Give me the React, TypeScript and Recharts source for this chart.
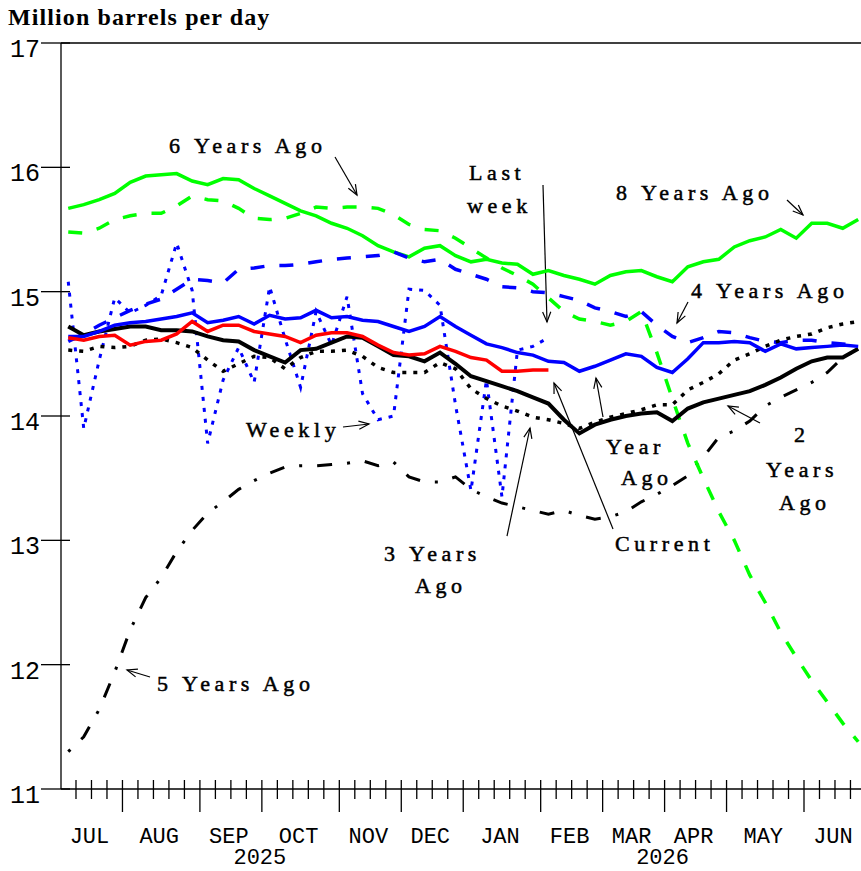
import React from "react";
import { LineChart, Line, XAxis, YAxis, ReferenceLine, Customized } from "recharts";

// ---------- data (week index 0..51, Jul 2025 .. Jun 2026) ----------
const WEEK = [0,1,2,3,4,5,6,7,8,9,10,11,12,13,14,15,16,17,18,19,20,21,22,23,24,25,26,27,28,29,30,31,32,33,34,35,36,37,38,39,40,41,42,43,44,45,46,47,48,49,50,51];

const CURRENT = [14.63,14.61,14.64,14.65,14.57,14.60,14.61,14.66,14.76,14.68,
  14.73,14.73,14.68,14.66,14.64,14.59,14.65,14.67,14.67,14.64,
  14.57,14.51,14.49,14.50,14.56,14.52,14.47,14.45,14.36,14.36,
  14.37,14.37];

const WEEKLY = [15.08,13.90,14.45,14.95,14.83,14.89,14.97,15.39,15.01,13.78,
  14.29,14.55,14.27,15.04,14.62,14.23,14.84,14.57,14.96,14.18,
  13.97,14.00,15.02,15.01,14.89,14.09,13.40,14.29,13.35,14.53,
  14.56,14.63];

const YEAR_AGO = [14.64,14.64,14.68,14.73,14.75,14.76,14.78,14.80,14.83,14.75,
  14.77,14.80,14.74,14.81,14.78,14.79,14.85,14.79,14.80,14.77,
  14.76,14.72,14.68,14.72,14.80,14.72,14.65,14.58,14.55,14.51,
  14.49,14.44,14.43,14.36,14.40,14.45,14.50,14.48,14.39,14.35,
  14.46,14.59,14.59,14.60,14.59,14.52,14.58,14.54,14.55,14.56,
  14.57,14.56];

const TWO_YEARS_AGO = [14.72,14.65,14.68,14.70,14.72,14.72,14.69,14.69,14.68,14.64,
  14.61,14.60,14.53,14.48,14.43,14.53,14.54,14.59,14.64,14.63,
  14.56,14.49,14.48,14.44,14.51,14.42,14.32,14.28,14.24,14.20,
  14.15,14.10,13.97,13.86,13.93,13.97,14.00,14.02,14.03,13.96,
  14.06,14.11,14.14,14.17,14.20,14.25,14.31,14.38,14.44,14.47,
  14.47,14.54];

const THREE_YEARS_AGO = [14.53,14.52,14.56,14.55,14.56,14.61,14.62,14.59,14.55,14.45,
  14.36,14.42,14.48,14.47,14.38,14.47,14.52,14.52,14.53,14.48,
  14.39,14.35,14.35,14.35,14.43,14.38,14.22,14.14,14.08,14.04,
  13.99,13.97,13.94,13.90,13.95,13.99,14.02,14.05,14.09,14.09,
  14.21,14.27,14.34,14.45,14.50,14.56,14.61,14.64,14.66,14.71,
  14.74,14.76];

const FOUR_YEARS_AGO = [14.60,14.66,14.73,14.79,14.85,14.90,14.94,15.02,15.10,15.09,
  15.07,15.18,15.19,15.21,15.21,15.22,15.24,15.26,15.27,15.28,
  15.29,15.32,15.27,15.24,15.26,15.18,15.14,15.10,15.04,15.03,
  15.00,14.99,14.96,14.93,14.87,14.84,14.80,14.84,14.73,14.64,
  14.59,14.63,14.68,14.67,14.63,14.60,14.59,14.61,14.61,14.59,
  14.58,14.56];

const FIVE_YEARS_AGO = [11.30,11.42,11.64,11.94,12.28,12.54,12.70,12.91,13.08,13.22,
  13.31,13.41,13.48,13.54,13.59,13.60,13.60,13.61,13.62,13.64,
  13.60,13.63,13.51,13.47,13.47,13.51,13.41,13.35,13.30,13.27,
  13.24,13.21,13.24,13.20,13.17,13.19,13.23,13.31,13.37,13.44,
  13.52,13.67,13.83,13.88,13.96,14.08,14.15,14.21,14.27,14.35,
  14.47,14.54];

const SIX_YEARS_AGO = [15.48,15.47,15.51,15.58,15.61,15.63,15.63,15.69,15.77,15.74,
  15.73,15.67,15.59,15.58,15.59,15.63,15.68,15.67,15.68,15.68,
  15.67,15.62,15.54,15.50,15.49,15.43,15.35,15.27,15.19,15.13,
  15.06,14.95,14.84,14.78,14.76,14.73,14.76,14.84,14.51,14.14,
  13.78,13.50,13.23,13.00,12.72,12.50,12.26,12.06,11.87,11.70,
  11.53,11.38];

const EIGHT_YEARS_AGO = [15.67,15.70,15.74,15.79,15.88,15.93,15.94,15.95,15.89,15.86,
  15.91,15.90,15.83,15.77,15.71,15.65,15.61,15.55,15.51,15.45,
  15.37,15.32,15.28,15.35,15.37,15.29,15.24,15.26,15.23,15.22,
  15.14,15.17,15.13,15.10,15.06,15.13,15.16,15.17,15.12,15.08,
  15.20,15.24,15.26,15.36,15.41,15.44,15.50,15.43,15.55,15.55,
  15.51,15.58];

const MONTHS = ["JUL","AUG","SEP","OCT","NOV","DEC","JAN","FEB","MAR","APR","MAY","JUN"];
const MONTH_START_WEEK = [0,4,9,13,18,22,26,31,35,39,43,48];
const LAST_WEEK_BOUNDARY = 52;
const YEARS = ["2025","2026"];
const YEAR_START_WEEK = [0,26];
const Y_TICKS = [11,12,13,14,15,16,17];

// ---------- derived ----------
const data = WEEK.map((w, i) => ({
  w,
  current: CURRENT[i] ?? null,
  weekly: WEEKLY[i] ?? null,
  y1: YEAR_AGO[i] ?? null,
  y2: TWO_YEARS_AGO[i] ?? null,
  y3: THREE_YEARS_AGO[i] ?? null,
  y4: FOUR_YEARS_AGO[i] ?? null,
  y5: FIVE_YEARS_AGO[i] ?? null,
  y6: SIX_YEARS_AGO[i] ?? null,
  y8: EIGHT_YEARS_AGO[i] ?? null,
}));

// week boundaries sit half a week before each data point
const bnd = (j: number) => j - 0.5;
const WEEK_TICKS: number[] = [];
for (let j = 1; j < LAST_WEEK_BOUNDARY; j++) WEEK_TICKS.push(bnd(j));
const MONTH_CENTERS = MONTH_START_WEEK.map((s, i) =>
  bnd((s + (MONTH_START_WEEK[i + 1] ?? LAST_WEEK_BOUNDARY)) / 2));
const YEAR_CENTERS = YEAR_START_WEEK.map((s, i) =>
  bnd((s + (YEAR_START_WEEK[i + 1] ?? LAST_WEEK_BOUNDARY)) / 2));
const X_TICKS = Array.from(new Set([...WEEK_TICKS, ...MONTH_CENTERS, ...YEAR_CENTERS])).sort((a, b) => a - b);

const near = (a: number, b: number) => Math.abs(a - b) < 1e-6;
const AXIS_FONT = "'Liberation Mono', 'DejaVu Sans Mono', monospace";
const NOTE_FONT = "'Liberation Serif', 'Times New Roman', serif";

function XTick(props: any) {
  const { x, y, payload } = props;
  const v = payload.value as number;
  const parts: any[] = [];
  const j = v + 0.5;
  if (near(j, Math.round(j)) && j >= 1 && j < LAST_WEEK_BOUNDARY) {
    const major = MONTH_START_WEEK.includes(Math.round(j));
    parts.push(<line key="t" x1={x} x2={x} y1={y - 9} y2={y + (major ? 23 : 10)} stroke="#000" strokeWidth={1.3} />);
  }
  MONTH_CENTERS.forEach((c, i) => {
    if (near(c, v)) parts.push(
      <text key={"m" + i} x={x - 2} y={y + 54} textAnchor="middle" fontFamily={AXIS_FONT} fontSize={22} fill="#000">{MONTHS[i]}</text>);
  });
  YEAR_CENTERS.forEach((c, i) => {
    if (near(c, v)) parts.push(
      <text key={"y" + i} x={x - 2} y={y + 75} textAnchor="middle" fontFamily={AXIS_FONT} fontSize={22} fill="#000">{YEARS[i]}</text>);
  });
  return <g>{parts}</g>;
}

function YTick(props: any) {
  const { x, y, payload } = props;
  return (
    <g>
      <line x1={x - 20} x2={x + 9} y1={y} y2={y} stroke="#000" strokeWidth={1.3} />
      <text x={x - 21} y={y + 14} textAnchor="end" fontFamily={AXIS_FONT} fontSize={25} fill="#000">{payload.value}</text>
    </g>
  );
}

function Arrow({ x1, y1, x2, y2 }: { x1: number; y1: number; x2: number; y2: number }) {
  const a = Math.atan2(y2 - y1, x2 - x1);
  const L = 11, s = 0.38;
  const p1 = `${x2 - L * Math.cos(a - s)},${y2 - L * Math.sin(a - s)}`;
  const p2 = `${x2 - L * Math.cos(a + s)},${y2 - L * Math.sin(a + s)}`;
  return (
    <g stroke="#000" strokeWidth={1.2} fill="none">
      <line x1={x1} y1={y1} x2={x2} y2={y2} />
      <polyline points={`${p1} ${x2},${y2} ${p2}`} />
    </g>
  );
}

const NOTES = [
  { t: "6 Years Ago", x: 169, y: 153 },
  { t: "Last", x: 469, y: 180 },
  { t: "week", x: 467, y: 213 },
  { t: "8 Years Ago", x: 616, y: 200 },
  { t: "4 Years Ago", x: 691, y: 298 },
  { t: "Weekly", x: 246, y: 437 },
  { t: "Year", x: 606, y: 454 },
  { t: "Ago", x: 621, y: 485 },
  { t: "Current", x: 615, y: 551 },
  { t: "3 Years", x: 384, y: 561 },
  { t: "Ago", x: 415, y: 593 },
  { t: "2", x: 794, y: 442 },
  { t: "Years", x: 766, y: 477 },
  { t: "Ago", x: 779, y: 510 },
  { t: "5 Years Ago", x: 157, y: 691 },
];

const ARROWS = [
  { x1: 335, y1: 157, x2: 357, y2: 195 },
  { x1: 543, y1: 185, x2: 547, y2: 322 },
  { x1: 787, y1: 200, x2: 803, y2: 215 },
  { x1: 688, y1: 302, x2: 677, y2: 323 },
  { x1: 343, y1: 427, x2: 369, y2: 424 },
  { x1: 603, y1: 417, x2: 596, y2: 378 },
  { x1: 613, y1: 529, x2: 554, y2: 383 },
  { x1: 507, y1: 536, x2: 530, y2: 428 },
  { x1: 760, y1: 423, x2: 728, y2: 406 },
  { x1: 150, y1: 677, x2: 127, y2: 670 },
];

function Overlay() {
  return (
    <g>
      <text x={8} y={25} fontFamily="'Liberation Serif', 'Times New Roman', serif" fontWeight="bold" fontSize={24} letterSpacing={1.1} fill="#000">
        Million barrels per day
      </text>
      {NOTES.map((n, i) => (
        <text key={i} x={n.x} y={n.y} fontFamily={NOTE_FONT} fontSize={22} letterSpacing={4.6}
          fill="#000" stroke="#000" strokeWidth={0.5}>{n.t}</text>
      ))}
      {ARROWS.map((a, i) => <Arrow key={i} {...a} />)}
    </g>
  );
}

export default function App() {
  return (
    <div style={{ position: "absolute", left: 0, top: 0, width: 861, height: 871, background: "#fff" }}>
      <LineChart width={861} height={871} data={data} margin={{ top: 43, right: 0, bottom: 0, left: 0 }}>
        <XAxis
          dataKey="w" type="number" domain={[-0.468, 51.18]} allowDataOverflow
          ticks={X_TICKS} interval={0} height={82}
          tickLine={false} tickSize={0} tickMargin={0}
          axisLine={{ stroke: "#000", strokeWidth: 1.3 }}
          tick={<XTick />}
        />
        <YAxis
          type="number" domain={[11, 17]} ticks={Y_TICKS} interval={0} width={61}
          tickLine={false} tickSize={0} tickMargin={0}
          axisLine={{ stroke: "#000", strokeWidth: 1.3 }}
          tick={<YTick />}
        />
        <ReferenceLine y={17} stroke="#000" strokeWidth={1.3} />
        <Line dataKey="weekly" stroke="#0000ff" strokeWidth={3} strokeDasharray="4 7" dot={false} isAnimationActive={false} connectNulls={false} />
        <Line dataKey="y5" stroke="#000" strokeWidth={3} strokeDasharray="3 15 15 15" dot={false} isAnimationActive={false} />
        <Line dataKey="y6" stroke="#00ff00" strokeWidth={3.5} strokeDasharray="14 15" dot={false} isAnimationActive={false} />
        <Line dataKey="y8" stroke="#00ff00" strokeWidth={3.5} dot={false} isAnimationActive={false} />
        <Line dataKey="y4" stroke="#0000ff" strokeWidth={3.5} strokeDasharray="14 15" dot={false} isAnimationActive={false} />
        <Line dataKey="y3" stroke="#000" strokeWidth={3.5} strokeDasharray="4 7" dot={false} isAnimationActive={false} />
        <Line dataKey="y2" stroke="#000" strokeWidth={4} dot={false} isAnimationActive={false} />
        <Line dataKey="y1" stroke="#0000ff" strokeWidth={3.5} dot={false} isAnimationActive={false} />
        <Line dataKey="current" stroke="#ff0000" strokeWidth={3.5} dot={false} isAnimationActive={false} connectNulls={false} />
        <Customized component={Overlay} />
      </LineChart>
    </div>
  );
}
